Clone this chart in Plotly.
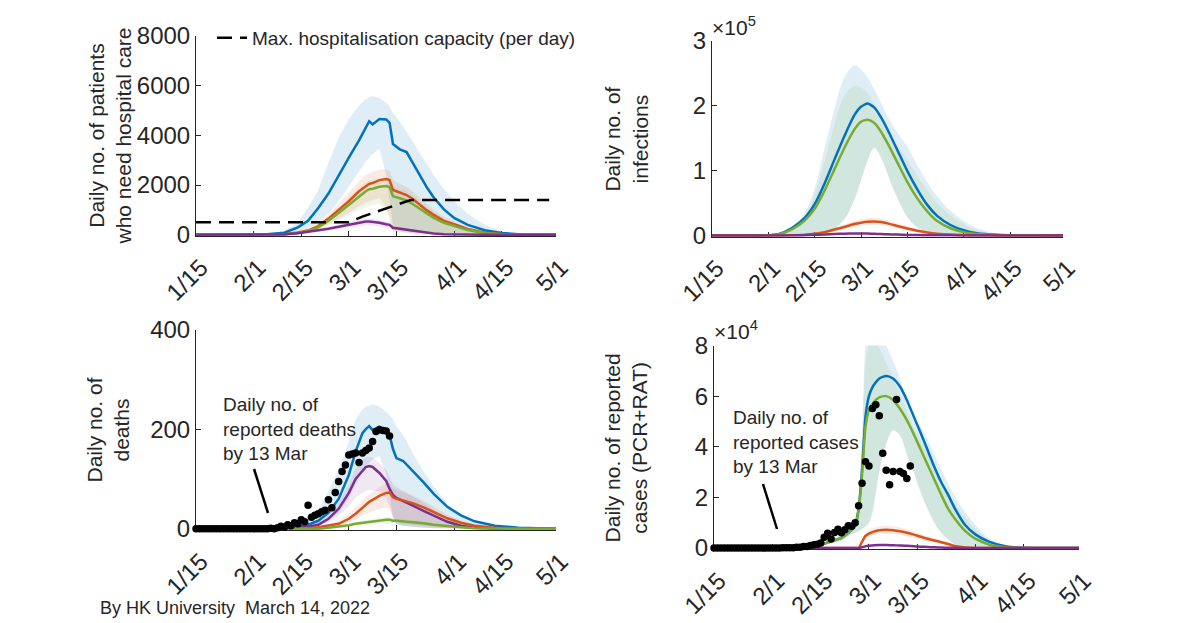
import pandas as pd
import plotly.graph_objects as go

# model scenarios (MATLAB default colours)
BLUE, ORANGE, GREEN, PURPLE = '#0072BD', '#D95319', '#77AC30', '#7E2F8E'
BAND = {BLUE: 'rgba(0,114,189,0.13)', ORANGE: 'rgba(217,83,25,0.12)',
        GREEN: 'rgba(119,172,48,0.11)', PURPLE: 'rgba(126,47,142,0.11)'}
INK = '#262626'

start = pd.Timestamp('2022-01-15')
tick_dates = ['2022-01-15', '2022-02-01', '2022-02-15', '2022-03-01',
              '2022-03-15', '2022-04-01', '2022-04-15', '2022-05-01']
tick_labels = ['1/15', '2/1', '2/15', '3/1', '3/15', '4/1', '4/15', '5/1']

# ---- top left: patients needing hospital care (days since 1/15) ----
tl_days = [0, 20, 26, 30, 33, 36, 39, 42, 45, 48, 50, 51, 52, 54, 56, 57, 58, 60, 62, 64, 66, 68, 70, 73, 76, 80, 85, 90, 96, 106]
tl_blue = [0, 10, 80, 300, 560, 1080, 1660, 2400, 3100, 3800, 4300, 4570, 4440, 4660, 4640, 4500, 3650, 3440, 3330, 2850, 2380, 1900, 1500, 1020, 680, 400, 180, 70, 15, 0]
tl_blue_hi = [0, 20, 150, 500, 1100, 1800, 2900, 3900, 4650, 5200, 5450, 5530, 5570, 5500, 5320, 5150, 4900, 4550, 4150, 3700, 3250, 2800, 2400, 1850, 1350, 850, 400, 150, 30, 0]
tl_blue_lo = [0, 0, 20, 100, 250, 500, 850, 1350, 1950, 2550, 2950, 3100, 3250, 3450, 2400, 1500, 400, 200, 150, 100, 80, 60, 40, 20, 10, 0, 0, 0, 0, 0]
tl_orange = [0, 0, 20, 90, 170, 350, 650, 1000, 1350, 1750, 1950, 2050, 2080, 2200, 2240, 2200, 1800, 1700, 1600, 1420, 1200, 980, 800, 560, 430, 230, 80, 30, 5, 0]
tl_orange_hi = [0, 0, 30, 130, 250, 480, 820, 1250, 1700, 2150, 2400, 2480, 2530, 2620, 2640, 2580, 2200, 2050, 1920, 1720, 1480, 1220, 1000, 720, 520, 280, 110, 40, 8, 0]
tl_orange_lo = [0, 0, 10, 60, 120, 250, 420, 650, 880, 1150, 1300, 1370, 1400, 1480, 1100, 700, 150, 100, 80, 60, 40, 30, 20, 10, 5, 0, 0, 0, 0, 0]
tl_green = [0, 0, 15, 75, 140, 300, 560, 880, 1200, 1550, 1750, 1830, 1850, 1930, 1960, 1920, 1550, 1470, 1380, 1220, 1030, 840, 680, 480, 350, 190, 65, 20, 4, 0]
tl_green_hi = [0, 0, 25, 110, 210, 420, 720, 1100, 1500, 1900, 2100, 2180, 2200, 2280, 2300, 2250, 1950, 1850, 1740, 1560, 1340, 1100, 900, 650, 470, 260, 95, 30, 6, 0]
tl_green_lo = [0, 0, 8, 45, 90, 200, 360, 560, 770, 1000, 1130, 1180, 1200, 1260, 950, 600, 120, 80, 60, 45, 30, 20, 15, 8, 3, 0, 0, 0, 0, 0]
tl_purple = [0, 5, 20, 60, 110, 170, 240, 320, 410, 490, 530, 530, 520, 480, 420, 400, 280, 240, 195, 150, 110, 75, 50, 22, 10, 3, 0, 0, 0, 0]
tl_purple_hi = [0, 8, 30, 85, 150, 230, 320, 420, 530, 620, 660, 660, 650, 600, 530, 500, 360, 310, 250, 195, 145, 100, 68, 32, 15, 5, 0, 0, 0, 0]
tl_purple_lo = [0, 2, 10, 35, 70, 110, 160, 220, 290, 350, 380, 380, 370, 340, 300, 280, 180, 150, 120, 90, 65, 45, 30, 12, 5, 1, 0, 0, 0, 0]
cap_days = [0, 45, 49, 54, 59, 63, 64, 104]
cap_vals = [500, 500, 730, 970, 1210, 1390, 1400, 1400]

# ---- top right: infections ----
tr_days = [0, 15, 20, 24, 28, 31, 34, 37, 40, 43, 45, 47, 49, 51, 53, 56, 59, 62, 65, 68, 72, 76, 80, 86, 92, 106]
tr_blue = [0, 0, 2000, 11000, 27000, 48000, 80000, 117000, 153000, 185000, 198000, 203000, 197000, 182000, 163000, 131000, 99000, 71000, 47000, 30000, 16000, 8000, 3500, 1000, 200, 0]
tr_blue_hi = [0, 0, 3000, 12000, 35000, 72000, 135000, 195000, 243000, 262000, 255000, 243000, 225000, 205000, 183000, 158000, 136000, 108000, 82000, 60000, 38000, 22000, 11000, 3000, 500, 0]
tr_green = [0, 0, 1500, 9000, 23000, 41000, 69000, 102000, 135000, 163000, 175000, 178000, 173000, 160000, 142000, 112000, 82000, 57000, 37000, 22000, 11000, 5000, 2000, 500, 100, 0]
tr_green_hi = [0, 0, 2000, 10000, 30000, 62000, 115000, 170000, 215000, 230000, 228000, 218000, 200000, 180000, 160000, 138000, 116000, 92000, 70000, 50000, 31000, 17000, 8000, 2000, 300, 0]
tr_lo = [0, 0, 0, 0, 0, 1000, 4000, 11000, 25000, 55000, 85000, 115000, 135000, 120000, 95000, 57000, 28000, 12000, 5000, 1500, 300, 0, 0, 0, 0, 0]
tr_orange = [0, 0, 0, 200, 1000, 2500, 5000, 9000, 13000, 17500, 19500, 21000, 21500, 20500, 18500, 14500, 10500, 7000, 4500, 2700, 1200, 500, 150, 0, 0, 0]
tr_orange_hi = [0, 0, 0, 300, 1500, 3500, 7000, 12000, 17000, 22500, 25000, 26500, 27000, 26000, 23500, 19000, 14000, 9500, 6000, 3700, 1700, 700, 200, 0, 0, 0]
tr_orange_lo = [0, 0, 0, 100, 600, 1500, 3200, 6000, 9000, 13000, 15000, 16500, 17000, 16000, 14500, 11000, 7500, 5000, 3000, 1800, 700, 250, 50, 0, 0, 0]
tr_purple = [0, 0, 0, 100, 400, 900, 1500, 2200, 2700, 3000, 3000, 2800, 2500, 2100, 1700, 1200, 800, 500, 300, 150, 50, 0, 0, 0, 0, 0]

# ---- bottom left: deaths ----
bl_days = [0, 20, 26, 30, 33, 36, 39, 42, 45, 47, 49, 50, 51, 52, 54, 56, 57, 58, 59, 61, 64, 67, 70, 74, 78, 82, 88, 95, 106]
bl_blue = [0, 0, 0, 2, 8, 16, 32, 60, 108, 155, 192, 200, 206, 198, 205, 198, 188, 160, 142, 136, 115, 93, 70, 44, 27, 15, 6, 2, 0]
bl_blue_hi = [0, 0, 1, 5, 15, 38, 75, 120, 175, 220, 240, 245, 248, 250, 245, 235, 228, 220, 205, 188, 150, 115, 85, 50, 25, 12, 4, 1, 0]
bl_blue_lo = [0, 0, 0, 0, 2, 6, 15, 32, 60, 90, 115, 125, 132, 140, 146, 110, 70, 25, 10, 5, 3, 2, 1, 0, 0, 0, 0, 0, 0]
bl_purple = [0, 0, 0, 1, 4, 8, 20, 40, 72, 100, 116, 124, 126, 124, 112, 96, 80, 68, 62, 56, 46, 36, 26, 14, 6, 2, 0, 0, 0]
bl_purple_hi = [0, 0, 0, 2, 6, 12, 27, 52, 90, 122, 138, 143, 145, 143, 132, 118, 105, 90, 84, 76, 64, 52, 38, 21, 10, 4, 1, 0, 0]
bl_purple_lo = [0, 0, 0, 0, 2, 5, 12, 25, 45, 62, 72, 76, 78, 78, 75, 62, 45, 20, 10, 6, 4, 2, 1, 0, 0, 0, 0, 0, 0]
bl_orange = [0, 0, 0, 0, 1, 3, 6, 10, 20, 30, 42, 49, 54, 58, 66, 72, 73, 63, 60, 57, 51, 43, 33, 21, 12, 6, 2, 0, 0]
bl_orange_hi = [0, 0, 0, 0, 2, 5, 10, 16, 30, 42, 56, 64, 70, 74, 84, 91, 92, 82, 78, 74, 66, 56, 44, 28, 17, 9, 3, 1, 0]
bl_orange_lo = [0, 0, 0, 0, 0, 1, 3, 6, 12, 18, 26, 30, 33, 35, 40, 42, 40, 25, 15, 10, 7, 5, 3, 1, 0, 0, 0, 0, 0]
bl_green = [0, 0, 0, 0, 0, 0, 2, 4, 7, 10, 12, 13, 14, 15, 17, 18, 18, 16, 16, 15, 13, 11, 8, 5, 3, 1, 0, 0, 0]
bl_green_hi = [0, 0, 0, 0, 0, 1, 3, 6, 10, 14, 17, 18, 19, 20, 22, 24, 24, 21, 21, 20, 17, 14, 11, 7, 4, 2, 0, 0, 0]
bl_green_lo = [0, 0, 0, 0, 0, 0, 1, 2, 4, 6, 7, 8, 8, 9, 10, 11, 11, 9, 9, 9, 8, 6, 5, 3, 2, 1, 0, 0, 0]
# reported deaths, one per day from 1/15 to 3/13
deaths_reported = [0, 0, 0, 0, 0, 0, 0, 0, 0, 0, 0, 0, 0, 0, 0, 0, 0, 0, 0, 0, 0, 0,
                   1, 0, 2, 5, 3, 8, 6, 12, 10, 18, 14, 47, 23, 27, 30, 34, 37, 58,
                   42, 73, 95, 115, 128, 148, 150, 152, 133, 152, 157, 162, 175, 195,
                   199, 197, 196, 186]

# ---- bottom right: reported cases (PCR+RAT) ----
br_days = [0, 15, 20, 25, 28, 31, 34, 37, 40, 41, 42, 43, 44, 45, 46, 48, 50, 52, 54, 56, 58, 60, 62, 64, 66, 68, 70, 73, 76, 80, 85, 90, 106]
br_blue = [0, 0, 30, 150, 500, 1300, 2700, 4000, 7300, 9000, 15500, 31000, 52000, 60000, 63500, 67000, 68000, 67000, 63800, 58500, 52000, 45500, 38800, 32000, 26000, 21000, 15500, 9000, 5300, 2400, 600, 100, 0]
br_blue_hi = [0, 0, 80, 250, 800, 2000, 3600, 5500, 9500, 12000, 21000, 45000, 80000, 88000, 90000, 87000, 80000, 74000, 67000, 59000, 52000, 48000, 43000, 37000, 31000, 25500, 20500, 14000, 9000, 3700, 800, 0, 0]
br_green = [0, 0, 30, 150, 500, 1300, 2700, 4000, 7300, 8800, 15000, 29000, 48000, 54500, 57000, 59500, 60000, 58500, 55000, 50500, 45000, 39000, 33000, 27000, 21000, 15500, 11500, 6700, 3600, 1300, 300, 50, 0]
br_green_hi = [0, 0, 70, 220, 700, 1800, 3300, 5000, 9000, 11000, 19000, 40000, 72000, 80000, 82000, 79000, 73000, 67000, 61000, 54000, 47500, 43000, 38000, 32500, 27000, 22000, 17500, 12000, 7500, 3000, 600, 0, 0]
br_lo = [0, 0, 10, 100, 300, 900, 1800, 3000, 5500, 6000, 6500, 7500, 8500, 10000, 14000, 30000, 41000, 46500, 44500, 37000, 30000, 22000, 15500, 10000, 6000, 3500, 1500, 400, 0, 0, 0, 0, 0]
br_orange = [0, 0, 0, 0, 0, 0, 0, 0, 0, 0, 0, 2500, 4800, 5700, 6300, 7000, 7200, 7000, 6600, 6000, 5300, 4500, 3700, 3000, 2300, 1600, 800, 250, 50, 0, 0, 0, 0]
br_orange_hi = [0, 0, 0, 0, 0, 0, 0, 0, 0, 0, 0, 3300, 6000, 7000, 7700, 8500, 8800, 8600, 8100, 7400, 6600, 5600, 4700, 3800, 3000, 2100, 1100, 400, 100, 0, 0, 0, 0]
br_orange_lo = [0, 0, 0, 0, 0, 0, 0, 0, 0, 0, 0, 1800, 3600, 4400, 4900, 5500, 5600, 5400, 5100, 4600, 4000, 3400, 2800, 2200, 1700, 1100, 500, 150, 20, 0, 0, 0, 0]
br_purple = [0, 0, 0, 0, 0, 0, 0, 0, 0, 0, 0, 300, 700, 900, 1000, 1200, 1200, 1100, 1000, 900, 700, 550, 400, 300, 200, 120, 60, 20, 0, 0, 0, 0, 0]
# reported cases, one per day from 1/15 to 3/13
cases_reported = [0, 0, 0, 0, 0, 0, 0, 0, 0, 0, 0, 0, 0, 0, 0, 0, 0, 0, 0, 0,
                  100, 130, 150, 150, 300, 350, 600, 650, 1000, 1300, 1500, 2000,
                  4300, 5800, 3600, 6100, 7400, 6000, 7200, 8800, 8600, 10000,
                  16700, 25600, 34100, 32400, 55100, 56600, 52300, 37400, 30700,
                  25000, 30200, 58700, 30200, 29400, 27500, 32400]

# the page adds an 8px body margin, so the figure is 8px smaller than the window
W, H, OFF = 1192, 615, 8


def fx(p):
    return (p - OFF) / W


def fy(p):
    return 1 - (p - OFF) / H


def to_dates(days):
    return [start + pd.Timedelta(days=int(d)) for d in days]


fig = go.Figure()


def add_band(days, lo, hi, color, xa, ya, shape='linear'):
    x = to_dates(days)
    fig.add_trace(go.Scatter(x=x + x[::-1], y=list(hi) + list(lo)[::-1], fill='toself',
                             fillcolor=BAND[color], line=dict(width=0, shape=shape),
                             mode='lines', hoverinfo='skip', showlegend=False,
                             xaxis=xa, yaxis=ya))


def add_line(days, vals, color, xa, ya, shape='linear'):
    fig.add_trace(go.Scatter(x=to_dates(days), y=vals, mode='lines',
                             line=dict(color=color, width=2.5, shape=shape, smoothing=0.6),
                             showlegend=False, xaxis=xa, yaxis=ya))


def add_dots(vals, xa, ya):
    fig.add_trace(go.Scatter(x=to_dates(range(len(vals))), y=vals, mode='markers',
                             marker=dict(color='black', size=7.5), cliponaxis=False,
                             showlegend=False, xaxis=xa, yaxis=ya))


# top left
add_band(tl_days, tl_blue_lo, tl_blue_hi, BLUE, 'x', 'y')
add_band(tl_days, tl_orange_lo, tl_orange_hi, ORANGE, 'x', 'y')
add_band(tl_days, tl_green_lo, tl_green_hi, GREEN, 'x', 'y')
add_band(tl_days, tl_purple_lo, tl_purple_hi, PURPLE, 'x', 'y')
add_line(tl_days, tl_blue, BLUE, 'x', 'y')
add_line(tl_days, tl_orange, ORANGE, 'x', 'y')
add_line(tl_days, tl_green, GREEN, 'x', 'y')
add_line(tl_days, tl_purple, PURPLE, 'x', 'y')
fig.add_trace(go.Scatter(x=to_dates(cap_days), y=cap_vals, mode='lines',
                         name='Max. hospitalisation capacity (per day)',
                         line=dict(color='black', width=2.5, dash='15px,8px'),
                         xaxis='x', yaxis='y'))

# top right
add_band(tr_days, tr_lo, tr_blue_hi, BLUE, 'x2', 'y2', 'spline')
add_band(tr_days, tr_lo, tr_green_hi, GREEN, 'x2', 'y2', 'spline')
add_band(tr_days, tr_orange_lo, tr_orange_hi, ORANGE, 'x2', 'y2', 'spline')
add_line(tr_days, tr_blue, BLUE, 'x2', 'y2', 'spline')
add_line(tr_days, tr_green, GREEN, 'x2', 'y2', 'spline')
add_line(tr_days, tr_orange, ORANGE, 'x2', 'y2', 'spline')
add_line(tr_days, tr_purple, PURPLE, 'x2', 'y2', 'spline')

# bottom left
add_band(bl_days, bl_blue_lo, bl_blue_hi, BLUE, 'x3', 'y3')
add_band(bl_days, bl_purple_lo, bl_purple_hi, PURPLE, 'x3', 'y3')
add_band(bl_days, bl_orange_lo, bl_orange_hi, ORANGE, 'x3', 'y3')
add_band(bl_days, bl_green_lo, bl_green_hi, GREEN, 'x3', 'y3')
add_line(bl_days, bl_blue, BLUE, 'x3', 'y3')
add_line(bl_days, bl_purple, PURPLE, 'x3', 'y3')
add_line(bl_days, bl_orange, ORANGE, 'x3', 'y3')
add_line(bl_days, bl_green, GREEN, 'x3', 'y3')
add_dots(deaths_reported, 'x3', 'y3')

# bottom right
add_band(br_days, br_lo, br_blue_hi, BLUE, 'x4', 'y4', 'spline')
add_band(br_days, br_lo, br_green_hi, GREEN, 'x4', 'y4', 'spline')
add_band(br_days, br_orange_lo, br_orange_hi, ORANGE, 'x4', 'y4', 'spline')
add_line(br_days, br_blue, BLUE, 'x4', 'y4', 'spline')
add_line(br_days, br_green, GREEN, 'x4', 'y4', 'spline')
add_line(br_days, br_orange, ORANGE, 'x4', 'y4', 'spline')
add_line(br_days, br_purple, PURPLE, 'x4', 'y4', 'spline')
add_dots(cases_reported, 'x4', 'y4')


def x_axis(domain, anchor):
    return dict(domain=domain, anchor=anchor, type='date', range=['2022-01-15', '2022-05-01'],
                tickvals=tick_dates, ticktext=tick_labels, tickangle=-45, automargin=False,
                ticklabelstandoff=7, ticklabelshift=5,
                ticks='inside', ticklen=5, tickcolor=INK, showline=True, linecolor=INK,
                linewidth=1, showgrid=False, zeroline=False, layer='below traces',
                tickfont=dict(size=24, color=INK))


def y_axis(domain, anchor, rng, vals, text):
    return dict(domain=domain, anchor=anchor, range=rng, tickvals=vals, ticktext=text,
                automargin=False,
                ticks='inside', ticklen=5, tickcolor=INK, showline=True, linecolor=INK,
                linewidth=1, showgrid=False, zeroline=False, layer='below traces',
                tickfont=dict(size=24, color=INK))


def y_title(text, x, y):
    return dict(text=text, x=fx(x), y=fy(y), xref='paper', yref='paper', showarrow=False,
                textangle=-90, xanchor='center', yanchor='middle',
                font=dict(size=21, color=INK))


def note(text, x, y, size=19, yanchor='middle'):
    return dict(text=text, x=fx(x), y=fy(y), xref='paper', yref='paper', showarrow=False,
                xanchor='left', yanchor=yanchor, align='left', font=dict(size=size, color=INK))


def pointer(x0, y0, x1, y1):
    return dict(type='line', xref='paper', yref='paper', x0=fx(x0), y0=fy(y0),
                x1=fx(x1), y1=fy(y1), line=dict(color='black', width=2.5))


fig.update_layout(
    width=W, height=H,
    margin=dict(l=0, r=0, t=0, b=0, autoexpand=False),
    paper_bgcolor='white', plot_bgcolor='white',
    font=dict(family='Liberation Sans, Arial, sans-serif', color=INK),
    xaxis=x_axis([fx(196), fx(556)], 'y'),
    yaxis=y_axis([fy(236), fy(36)], 'x', [-50, 8000], [0, 2000, 4000, 6000, 8000],
                 ['0', '2000', '4000', '6000', '8000']),
    xaxis2=x_axis([fx(712), fx(1063)], 'y2'),
    yaxis2=y_axis([fy(236.7), fy(40.5)], 'x2', [-2000, 300000], [0, 100000, 200000, 300000],
                  ['0', '1', '2', '3']),
    xaxis3=x_axis([fx(196), fx(556)], 'y3'),
    yaxis3=y_axis([fy(530), fy(329.5)], 'x3', [-2.5, 400], [0, 200, 400], ['0', '200', '400']),
    xaxis4=x_axis([fx(714), fx(1079)], 'y4'),
    yaxis4=y_axis([fy(549.3), fy(345.5)], 'x4', [-500, 80000], [0, 20000, 40000, 60000, 80000],
                  ['0', '2', '4', '6', '8']),
    showlegend=True,
    legend=dict(x=fx(212), y=fy(38), xanchor='left', yanchor='middle',
                bgcolor='rgba(0,0,0,0)', font=dict(size=19, color=INK)),
    annotations=[
        y_title('Daily no. of patients<br>who need hospital care', 109.5, 136),
        y_title('Daily no. of<br>infections', 626, 138.6),
        y_title('Daily no. of<br>deaths', 107.5, 430),
        y_title('Daily no. of reported<br>cases (PCR+RAT)', 626, 447.4),
        note('×10<sup>5</sup>', 710, 41, size=21, yanchor='bottom'),
        note('×10<sup>4</sup>', 712, 345, size=21, yanchor='bottom'),
        note('Daily no. of<br>reported deaths<br>by 13 Mar', 221, 429.3),
        note('Daily no. of<br>reported cases<br>by 13 Mar', 731, 441.7),
        note('By HK University\u00a0 March 14, 2022', 98, 608, size=18),
    ],
    shapes=[
        pointer(254, 469, 268, 513),
        pointer(763, 484, 777, 529),
    ],
)

fig.write_html('out.html')
